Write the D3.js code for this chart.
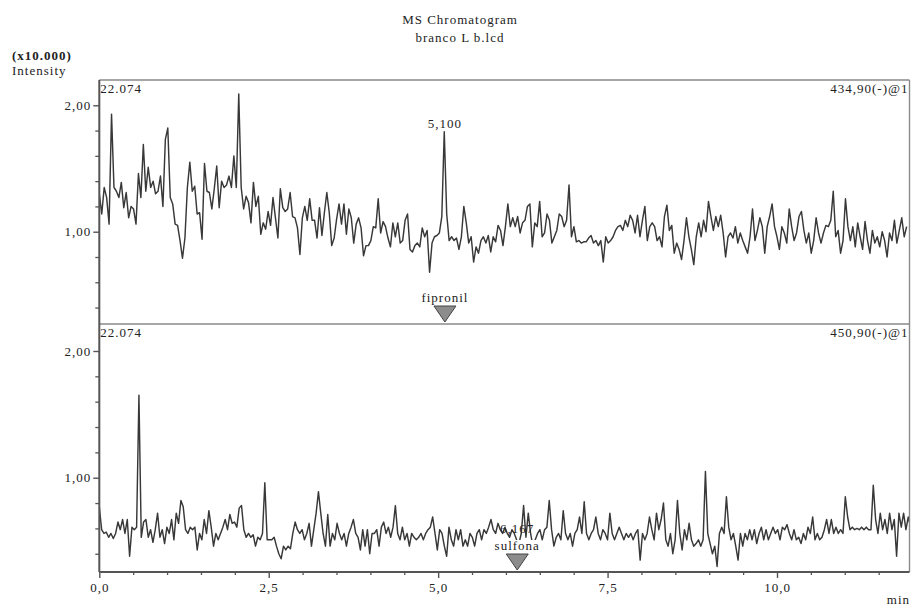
<!DOCTYPE html>
<html><head><meta charset="utf-8">
<script src="https://cdn.jsdelivr.net/npm/d3@7"></script>
<style>
body{margin:0;background:#fff}
svg{display:block}
text{font-family:"Liberation Serif","Times New Roman",serif;font-size:13px;letter-spacing:1px;fill:#222}
</style>
</head><body>
<svg id="c" width="914" height="608"></svg>
<script>
// ---------- data ----------
const titleLines = ["MS Chromatogram", "branco L b.lcd"];
const yUnitLabel = "(x10.000)";
const yAxisLabel = "Intensity";
const xAxisLabel = "min";
const xTicks = [0, 2.5, 5, 7.5, 10];
const xMinorTicks = [0.5, 1, 1.5, 2, 3, 3.5, 4, 4.5, 5.5, 6, 6.5, 7, 8, 8.5, 9, 9.5, 10.5, 11, 11.5];
const yTicks = [1, 2];
const yMinorTicks = [0.4, 0.6, 0.8, 1.2, 1.4, 1.6, 1.8];
const panelMaxLabels = ["22.074", "22.074"];
const channelLabels = ["434,90(-)@1", "450,90(-)@1"];
const compoundNames = ["fipronil", "sulfona"];
const compoundTimes = [5.100, 6.167];
const retentionLabels = ["5,100", "6,167"];
const sampleSteps = [0.0361, 0.0344]; // min per scan

const topIntensity = [
1.30,1.14,1.35,1.27,1.06,1.93,1.35,1.32,1.27,1.39,
1.19,1.31,1.11,1.20,1.18,1.06,1.46,1.27,1.69,1.32,
1.51,1.35,1.40,1.30,1.32,1.44,1.20,1.73,1.82,1.27,
1.22,1.06,1.05,0.93,0.79,0.95,1.35,1.55,1.32,1.36,
1.14,1.15,0.94,1.54,1.32,1.31,1.18,1.34,1.52,1.19,
1.40,1.35,1.37,1.44,1.35,1.60,1.35,2.09,1.35,1.18,
1.28,1.23,1.07,1.39,1.20,1.28,0.98,1.07,1.02,1.16,
1.05,1.27,1.11,0.95,1.34,1.19,1.16,1.18,1.31,1.12,
1.11,1.03,0.82,1.11,1.20,1.09,1.26,1.09,1.09,0.95,
1.19,0.97,1.15,1.31,1.15,0.89,0.95,1.10,1.22,1.06,
1.22,0.98,1.18,1.11,0.91,1.06,1.11,1.03,0.81,0.89,
0.89,
0.93,1.04,1.03,1.26,0.99,1.08,1.04,0.95,0.88,1.07,
0.96,1.07,0.91,0.93,1.09,1.14,0.86,0.84,0.89,0.91,
0.88,1.03,0.96,1.01,0.68,0.91,0.96,0.97,0.99,1.12,
1.79,1.14,0.93,0.96,0.93,0.95,0.86,0.96,1.20,1.07,
0.91,0.96,0.76,0.88,0.83,0.93,0.96,0.91,0.97,0.84,
0.96,0.92,1.05,1.01,0.89,1.04,1.22,1.04,1.11,1.04,
1.12,0.99,1.07,1.09,1.20,1.22,0.88,1.07,1.04,1.24,
0.96,0.99,1.14,1.09,0.91,0.96,1.01,1.14,1.12,1.04,
1.09,1.37,0.96,1.04,0.92,0.93,0.91,0.92,0.92,0.95,
0.97,0.91,0.93,0.89,0.93,0.76,0.96,0.91,0.93,0.96,
1.01,1.04,1.05,1.01,1.09,1.04,1.13,1.09,
0.99,1.13,0.96,1.09,1.20,0.93,1.04,1.07,1.04,0.93,
0.96,0.88,1.12,1.21,1.01,1.05,0.83,0.91,0.86,0.78,
0.93,1.11,0.96,0.86,0.74,0.96,1.07,0.96,1.09,1.00,
1.24,1.12,1.01,1.12,1.04,1.13,0.99,0.80,0.96,0.99,
0.95,1.04,0.91,0.99,0.93,0.88,0.83,0.96,1.18,0.93,
1.01,1.11,1.04,0.83,1.04,1.12,1.22,1.04,0.96,0.86,
1.04,0.99,0.91,1.18,1.04,0.93,0.99,1.12,1.16,1.01,
0.91,0.99,0.83,0.93,1.11,0.99,0.91,0.99,1.05,1.04,
1.09,1.32,0.96,1.01,0.83,0.93,1.26,1.04,0.93,1.04,
0.88,1.07,0.96,0.86,1.08,0.93,0.83,1.01,0.91,0.96,
0.88,1.00,0.93,0.80,0.99,0.93,1.09,0.91,1.01,1.11,
0.96,1.04
];

const bottomIntensity = [
0.77,0.59,0.56,0.57,0.53,0.56,0.52,0.56,0.65,0.59,
0.67,0.56,0.67,0.38,0.61,0.59,0.61,1.65,0.53,0.65,
0.67,0.53,0.59,0.49,0.59,0.72,0.53,0.59,0.48,0.61,
0.56,0.67,0.51,0.72,0.64,0.82,0.77,0.59,0.56,0.61,
0.59,0.61,0.43,0.56,0.51,0.67,0.56,0.74,0.61,0.46,
0.56,0.51,0.56,0.61,0.67,0.59,0.71,0.64,0.65,0.61,
0.76,0.78,0.59,0.53,0.56,0.53,0.55,0.46,0.53,0.51,
0.56,0.96,0.51,0.51,0.51,0.53,0.46,0.40,0.36,0.46,
0.43,0.46,0.44,0.56,0.65,0.59,0.56,0.59,0.51,0.56,
0.64,0.46,0.59,0.72,0.89,0.72,0.56,0.46,0.71,0.46,
0.56,0.51,0.64,0.56,0.51,0.56,0.46,0.56,0.61,0.67,
0.56,0.53,0.43,
0.59,0.46,0.59,0.40,0.56,0.56,0.59,0.46,0.61,0.65,
0.56,0.61,0.53,0.61,0.78,0.56,0.51,0.61,0.51,0.56,
0.46,0.56,0.53,0.51,0.53,0.56,0.51,0.56,0.59,0.61,
0.69,0.56,0.43,0.59,0.56,0.46,0.38,0.61,0.51,0.46,
0.59,0.51,0.59,0.46,0.51,0.46,0.56,0.53,0.46,0.56,
0.59,0.51,0.59,0.56,0.61,0.67,0.59,0.56,0.64,0.59,
0.56,0.61,0.56,0.53,0.59,0.56,0.51,0.48,0.56,0.78,
0.53,0.72,0.56,0.46,0.51,0.56,0.59,0.51,0.59,0.61,
0.82,0.59,0.46,0.53,0.56,0.51,0.74,0.56,0.51,0.56,
0.46,0.56,0.59,0.69,0.56,0.81,0.56,0.51,0.56,0.59,
0.69,0.56,0.51,0.59,0.56,0.51,0.72,0.56,0.51,0.56,
0.61,0.56,0.51,0.56,0.53,0.56,0.51,0.56,0.59,0.35,
0.56,0.51,0.56,0.69,
0.59,0.51,0.72,0.59,0.67,0.80,0.51,0.46,0.56,0.40,
0.51,0.82,0.56,0.43,0.59,0.51,0.64,0.51,0.46,0.48,
0.51,0.46,0.51,1.05,0.56,0.48,0.40,0.46,0.30,0.56,
0.61,0.56,0.85,0.61,0.51,0.56,0.46,0.35,0.56,0.46,
0.56,0.51,0.59,0.51,0.59,0.48,0.56,0.61,0.51,0.59,
0.51,0.56,0.61,0.56,0.59,0.51,0.61,0.59,0.63,0.56,
0.51,0.59,0.51,0.53,0.48,0.56,0.51,0.61,0.56,0.69,
0.51,0.56,0.51,0.53,0.59,0.67,0.56,0.67,0.56,0.61,
0.56,0.59,0.56,0.85,0.69,0.59,0.61,0.59,0.60,0.59,
0.61,0.59,0.61,0.59,0.59,0.94,0.67,0.56,0.72,0.59,
0.67,0.56,0.72,0.59,0.67,0.38,0.72,0.61,0.72,0.59,
0.69,0.61
];

// ---------- layout ----------
const svg = d3.select("#c");
const L = 99.3, R = 909.5;
const panels = [
  {top: 80, bottom: 324, domain: [0.27, 2.2], data: topIntensity, step: sampleSteps[0]},
  {top: 324, bottom: 572, domain: [0.256, 2.213], data: bottomIntensity, step: sampleSteps[1]}
];
const x = d3.scaleLinear().domain([0, 10]).range([L, 777]);
const fmt1 = d => d3.format(".1f")(d).replace(".", ",");
const fmt2 = d => d3.format(".2f")(d).replace(".", ",");

// Title
svg.selectAll("text.title").data(titleLines).join("text")
  .attr("class", "title").attr("x", 460).attr("y", (d, i) => 24 + i * 18)
  .attr("text-anchor", "middle").text(d => d);
svg.append("text").attr("x", 12).attr("y", 60).style("font-weight", "bold").text(yUnitLabel);
svg.append("text").attr("x", 12).attr("y", 75).text(yAxisLabel);

panels.forEach((p, pi) => {
  const y = d3.scaleLinear().domain(p.domain).range([p.bottom, p.top]);
  const clipId = "clip" + pi;
  svg.append("clipPath").attr("id", clipId).append("rect")
    .attr("x", L).attr("y", p.top).attr("width", R - L).attr("height", p.bottom - p.top);

  // trace
  const pts = p.data.map((v, i) => [i * p.step, v]);
  svg.append("path").datum(pts)
    .attr("clip-path", `url(#${clipId})`)
    .attr("fill", "none").attr("stroke", "#383838").attr("stroke-width", 1.45)
    .attr("stroke-linejoin", "round")
    .attr("d", d3.line().x(d => x(d[0])).y(d => y(d[1])));

  // frame top + right
  svg.append("line").attr("x1", L).attr("x2", R).attr("y1", p.top).attr("y2", p.top)
    .attr("stroke", "#8a8a8a").attr("stroke-width", 1.6);
  svg.append("line").attr("x1", R).attr("x2", R).attr("y1", p.top).attr("y2", p.bottom)
    .attr("stroke", "#8a8a8a").attr("stroke-width", 1.4);

  // y axis
  const ga = svg.append("g").attr("transform", `translate(${L},0)`)
    .call(d3.axisLeft(y).tickValues(yTicks).tickFormat(fmt2).tickSize(6).tickPadding(2).tickSizeOuter(0));
  ga.select(".domain").remove();
  ga.selectAll("line").attr("stroke", "#555").attr("stroke-width", 1.4);
  ga.selectAll("text").attr("font-family", null).attr("font-size", null).style("fill", "#222");
  const gm = svg.append("g").attr("transform", `translate(${L},0)`)
    .call(d3.axisLeft(y).tickValues(yMinorTicks).tickFormat("").tickSize(4).tickSizeOuter(0));
  gm.select(".domain").remove();
  gm.selectAll("line").attr("stroke", "#555").attr("stroke-width", 1.3);

  // panel labels
  svg.append("text").attr("x", L + 1).attr("y", p.top + 13).text(panelMaxLabels[pi]);
  svg.append("text").attr("x", R - 1).attr("y", p.top + 13).attr("text-anchor", "end").text(channelLabels[pi]);

  // compound marker
  const cx = x(compoundTimes[pi]);
  const nameT = svg.append("text").attr("x", cx).attr("y", p.bottom - 22)
    .attr("text-anchor", "middle").text(compoundNames[pi]);
  if (pi === 1) {
    const bb = nameT.node().getBBox();
    svg.insert("rect", () => nameT.node()).attr("x", bb.x - 1).attr("y", bb.y + 2)
      .attr("width", bb.width + 2).attr("height", bb.height - 3).attr("fill", "#fff");
  }
  svg.append("path")
    .attr("d", `M${cx - 11},${p.bottom - 18}L${cx + 11},${p.bottom - 18}L${cx},${p.bottom - 2}Z`)
    .attr("fill", "#8c8c8c").attr("stroke", "#444").attr("stroke-width", 1);

  // retention time label
  let ry;
  if (pi === 0) {
    const idx = d3.maxIndex(pts, d => Math.abs(d[0] - compoundTimes[pi]) < 0.1 ? d[1] : -1);
    ry = y(pts[idx][1]) - 4;
  } else {
    ry = p.bottom - 39;
  }
  svg.append("text").attr("x", cx).attr("y", ry).attr("text-anchor", "middle").text(retentionLabels[pi]);
});

// left axis line
svg.append("line").attr("x1", L).attr("x2", L).attr("y1", 80).attr("y2", 572)
  .attr("stroke", "#555").attr("stroke-width", 2);

// x axis
const gx = svg.append("g").attr("transform", "translate(0,572)")
  .call(d3.axisBottom(x).tickValues(xTicks).tickFormat(fmt1).tickSize(6).tickPadding(5).tickSizeOuter(0));
gx.select(".domain").remove();
gx.selectAll("line").attr("stroke", "#555").attr("stroke-width", 1.4);
gx.selectAll("text").attr("font-family", null).attr("font-size", null).style("fill", "#222");
const gxm = svg.append("g").attr("transform", "translate(0,572)")
  .call(d3.axisBottom(x).tickValues(xMinorTicks).tickFormat("").tickSize(3).tickSizeOuter(0));
gxm.select(".domain").remove();
gxm.selectAll("line").attr("stroke", "#555").attr("stroke-width", 1.3);
svg.append("line").attr("x1", L).attr("x2", R).attr("y1", 572).attr("y2", 572)
  .attr("stroke", "#555").attr("stroke-width", 1.8);
svg.append("text").attr("x", 910).attr("y", 604).attr("text-anchor", "end").text(xAxisLabel);
</script>
</body></html>
